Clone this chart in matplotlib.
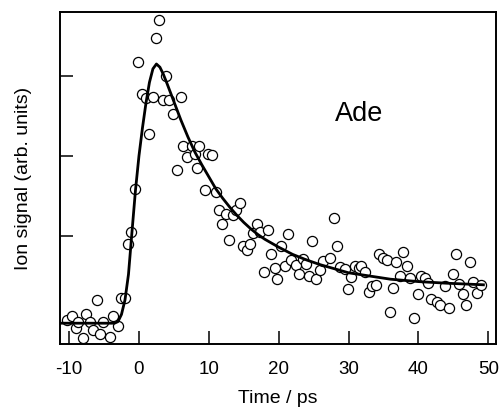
import matplotlib
matplotlib.use("Agg")
import matplotlib.pyplot as plt

plt.rcParams['font.family'] = ['Liberation Sans', 'DejaVu Sans']

# measured data points (time in ps, ion signal in arb. units)
time_ps = [-10.33, -9.61, -9.04, -8.67, -8.04, -7.57, -7.00, -6.53, -6.04, -5.57,
           -5.10, -4.14, -3.67, -3.04, -2.57, -2.00, -1.61, -1.14, -0.57, -0.10,
           0.39, 0.96, 1.39, 1.96, 2.39, 2.90, 3.39, 3.86, 4.33, 4.90,
           5.39, 5.96, 6.33, 6.81, 7.53, 8.00, 8.33, 8.61, 9.43, 9.90,
           10.47, 10.96, 11.47, 11.90, 12.43, 12.90, 13.39, 13.96, 14.43, 14.90,
           15.47, 15.96, 16.33, 16.90, 17.39, 17.86, 18.47, 18.86, 19.43, 19.81,
           20.39, 20.86, 21.33, 21.81, 22.43, 22.90, 23.47, 23.86, 24.33, 24.81,
           25.39, 25.86, 26.33, 27.29, 27.86, 28.33, 28.71, 29.43, 29.90, 30.39,
           30.86, 31.43, 31.81, 32.29, 32.90, 33.39, 33.96, 34.33, 34.90, 35.47,
           35.86, 36.33, 36.81, 37.39, 37.86, 38.33, 38.86, 39.33, 39.90, 40.39,
           41.00, 41.33, 41.81, 42.61, 43.10, 43.86, 44.33, 44.90, 45.39, 45.86,
           46.33, 46.81, 47.39, 47.86, 48.39, 48.96]
signal = [-0.05, 0.00, -0.15, -0.07, -0.27, 0.03, -0.07, -0.17, 0.20, -0.22,
          -0.07, -0.26, 0.00, -0.12, 0.23, 0.22, 0.90, 1.05, 1.59, 3.18,
          2.78, 2.73, 2.28, 2.74, 3.48, 3.70, 2.70, 3.00, 2.70, 2.53,
          1.83, 2.74, 2.12, 1.99, 2.12, 2.03, 1.85, 2.13, 1.58, 2.02,
          2.01, 1.55, 1.33, 1.15, 1.27, 0.95, 1.26, 1.33, 1.41, 0.88,
          0.83, 0.90, 1.04, 1.15, 1.05, 0.55, 1.08, 0.78, 0.60, 0.46,
          0.87, 0.62, 1.03, 0.70, 0.64, 0.53, 0.71, 0.65, 0.50, 0.94,
          0.46, 0.58, 0.69, 0.73, 1.23, 0.88, 0.61, 0.59, 0.34, 0.49,
          0.62, 0.60, 0.63, 0.55, 0.30, 0.38, 0.39, 0.77, 0.72, 0.70,
          0.05, 0.35, 0.68, 0.50, 0.80, 0.62, 0.48, -0.02, 0.27, 0.50,
          0.48, 0.41, 0.21, 0.17, 0.14, 0.38, 0.10, 0.53, 0.77, 0.40,
          0.27, 0.14, 0.67, 0.43, 0.29, 0.39]

# fitted curve
fit_t = [-11.3, -3.5, -3.0, -2.5, -2.0, -1.5, -1.0, -0.5, 0.0, 0.5,
         1.0, 1.5, 2.0, 2.5, 3.0, 3.5, 4.0, 5.0, 6.0, 7.0,
         8.0, 9.0, 10.0, 11.0, 12.0, 13.0, 14.0, 15.0, 16.0, 17.0,
         18.0, 20.0, 22.0, 24.0, 26.0, 28.0, 30.0, 33.0, 36.0, 40.0,
         44.0, 49.3]
fit_y = [-0.09, -0.09, -0.07, 0.02, 0.20, 0.52, 1.05, 1.57, 2.00, 2.35,
         2.66, 2.92, 3.09, 3.15, 3.11, 3.02, 2.91, 2.68, 2.45, 2.24,
         2.05, 1.89, 1.74, 1.59, 1.47, 1.36, 1.26, 1.17, 1.09, 1.02,
         0.96, 0.86, 0.77, 0.70, 0.64, 0.59, 0.54, 0.50, 0.46, 0.43,
         0.41, 0.39]

x_ticks = [-10, 0, 10, 20, 30, 40, 50]
y_ticks = [1, 2, 3]

fig = plt.figure(figsize=(5.02, 4.08), dpi=100)
ax = fig.add_axes([60/502, 1 - 344/408, 436/502, 332/408])

ax.plot(time_ps, signal, linestyle='none', marker='o', markersize=7.3,
        markerfacecolor='white', markeredgecolor='black', markeredgewidth=0.9,
        zorder=2)
ax.plot(fit_t, fit_y, color='black', linewidth=2.0, zorder=3,
        solid_joinstyle='round')

ax.set_xlim(-11.3, 51.1)
ax.set_ylim(-0.35, 3.8)
ax.set_xticks(x_ticks)
ax.set_xticklabels([str(v) for v in x_ticks])
ax.set_yticks(y_ticks)
ax.set_yticklabels([])

ax.tick_params(axis='both', direction='in', length=9.5, width=1.1,
               labelsize=13.5, colors='black')
ax.tick_params(axis='x', pad=12)
for s in ax.spines.values():
    s.set_linewidth(1.4)
    s.set_color('black')

ax.set_xlabel('Time / ps', fontsize=14, labelpad=9)
ax.set_ylabel('Ion signal (arb. units)', fontsize=14, labelpad=17)

ax.text((359 - 60) / 436, 1 - (114 - 12) / 332, 'Ade', transform=ax.transAxes,
        fontsize=19.5, ha='center', va='center')

fig.savefig('out.png', dpi=100)
